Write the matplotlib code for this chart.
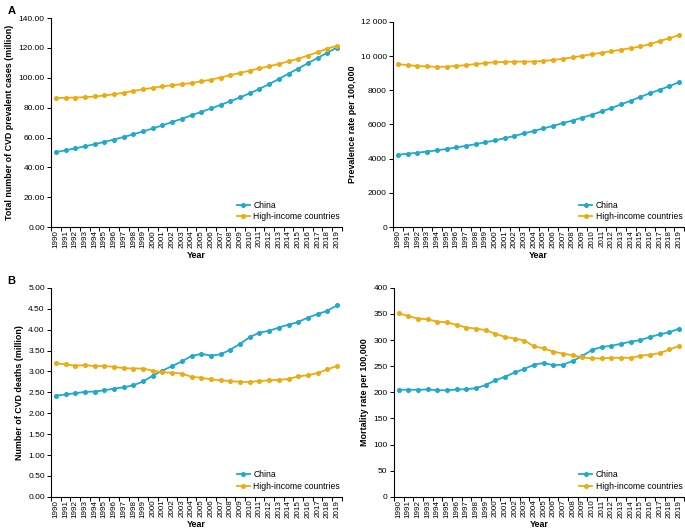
import matplotlib
matplotlib.use("Agg")
import matplotlib.pyplot as plt
import numpy as np
from matplotlib.ticker import FuncFormatter, MultipleLocator, FixedLocator

plt.rcParams['font.family'] = ['Liberation Sans', 'DejaVu Sans']

years = list(range(1990, 2020))

# Panel A left: total number of CVD prevalent cases (million)
prev_cases_china = [50.2, 51.5, 52.8, 54.1, 55.6, 57.1, 58.7, 60.4, 62.2, 64.1,
                    66.1, 68.2, 70.4, 72.6, 74.9, 77.2, 79.5, 81.9, 84.3, 86.9,
                    89.6, 92.6, 95.8, 99.2, 102.8, 106.2, 109.8, 113.3, 116.8, 120.3]
prev_cases_hic = [86.5, 86.6, 86.8, 87.0, 87.5, 88.2, 89.0, 90.0, 91.2, 92.3,
                  93.3, 94.3, 95.0, 95.8, 96.5, 97.6, 98.8, 100.2, 101.8, 103.3,
                  104.8, 106.3, 107.8, 109.3, 111.0, 112.8, 114.9, 117.2, 119.5, 121.5]

# Panel A right: prevalence rate per 100,000
prev_rate_china = [4230, 4290, 4350, 4420, 4490, 4570, 4660, 4750, 4850, 4960,
                   5070, 5200, 5330, 5480, 5620, 5770, 5920, 6080, 6230, 6400,
                   6570, 6760, 6960, 7170, 7390, 7610, 7830, 8030, 8240, 8470]
prev_rate_hic = [9530, 9470, 9420, 9390, 9370, 9380, 9420, 9470, 9530, 9590,
                 9640, 9660, 9670, 9680, 9680, 9710, 9770, 9840, 9920, 10010,
                 10110, 10190, 10280, 10370, 10460, 10560, 10700, 10880, 11040, 11220]

# Panel B left: number of CVD deaths (million)
deaths_china = [2.42, 2.45, 2.48, 2.51, 2.52, 2.55, 2.59, 2.62, 2.67, 2.76,
                2.90, 3.02, 3.13, 3.24, 3.37, 3.42, 3.38, 3.41, 3.52, 3.66,
                3.82, 3.93, 3.97, 4.05, 4.12, 4.18, 4.29, 4.37, 4.45, 4.58]
deaths_hic = [3.19, 3.17, 3.14, 3.15, 3.13, 3.13, 3.11, 3.08, 3.07, 3.07,
              3.02, 2.98, 2.97, 2.95, 2.87, 2.85, 2.81, 2.79, 2.77, 2.75,
              2.75, 2.77, 2.79, 2.80, 2.82, 2.88, 2.91, 2.96, 3.05, 3.13]

# Panel B right: mortality rate per 100,000
mort_china = [205, 205, 205, 205.5, 204, 204, 205.5, 206, 208, 214,
              223, 230, 238, 245, 253, 256, 252, 253, 260, 270,
              281, 287, 289, 293, 297, 300, 306, 311, 315, 322]
mort_hic = [351, 346, 341, 340, 335, 334, 329, 324, 322, 319,
            312, 306, 303, 299, 288, 284, 278, 274, 271, 267,
            265, 265, 266, 266, 266, 270, 272, 275, 282, 289]

c_china = "#1fa9cd"
c_hic = "#eeab0f"


def fmt2(v, pos):
    return "%.2f" % v


def fmt_space(v, pos):
    v = int(round(v))
    if v >= 10000:
        return "{:,}".format(v).replace(",", " ")
    return str(v)


def draw(ax, china, hic, ylabel, ymax, step, fmt):
    x = np.arange(len(years))
    ax.plot(x, china, color=c_china, marker="o", markersize=2.6, lw=1.3, label="China")
    ax.plot(x, hic, color=c_hic, marker="o", markersize=2.6, lw=1.3, label="High-income countries")
    ax.set_xlim(-0.5, len(years) - 0.5)
    ax.set_ylim(0, ymax)
    ax.yaxis.set_major_locator(MultipleLocator(step))
    ax.yaxis.set_major_formatter(FuncFormatter(fmt))
    ax.set_xticks(x)
    ax.set_xticklabels([str(y) for y in years], rotation=90)
    ax.xaxis.set_minor_locator(FixedLocator(np.arange(-0.5, len(years), 1.0)))
    ax.tick_params(axis="x", which="major", length=0, labelsize=5.8, pad=2)
    ax.tick_params(axis="x", which="minor", length=3, width=0.7)
    ax.tick_params(axis="y", length=3, width=0.7, labelsize=6.0, pad=1.5)
    for s in ["top", "right"]:
        ax.spines[s].set_visible(False)
    for s in ["left", "bottom"]:
        ax.spines[s].set_linewidth(0.8)
    ax.set_ylabel(ylabel, fontsize=6.4, fontweight="bold", labelpad=3)
    ax.set_xlabel("Year", fontsize=6.4, fontweight="bold", labelpad=2)
    ax.legend(loc="lower right", frameon=False, fontsize=6.2, handlelength=1.5,
              handletextpad=0.4, labelspacing=0.3, borderaxespad=0.3,
              bbox_to_anchor=(1.015, 0.0))


fig = plt.figure(figsize=(6.85, 5.32), dpi=100)
ax1 = fig.add_axes([0.0745, 0.573, 0.4245, 0.393])
ax2 = fig.add_axes([0.574, 0.573, 0.4245, 0.386])
ax3 = fig.add_axes([0.0745, 0.066, 0.4245, 0.393])
ax4 = fig.add_axes([0.575, 0.066, 0.4235, 0.393])

draw(ax1, prev_cases_china, prev_cases_hic, "Total number of CVD prevalent cases (million)", 140, 20, fmt2)
draw(ax2, prev_rate_china, prev_rate_hic, "Prevalence rate per 100,000", 12000, 2000, fmt_space)
draw(ax3, deaths_china, deaths_hic, "Number of CVD deaths (million)", 5, 0.5, fmt2)
draw(ax4, mort_china, mort_hic, "Mortality rate per 100,000", 400, 50, fmt_space)

fig.text(0.011, 0.988, "A", fontsize=8, fontweight="bold", va="top")
fig.text(0.011, 0.482, "B", fontsize=8, fontweight="bold", va="top")

fig.savefig("out.png", dpi=100)
